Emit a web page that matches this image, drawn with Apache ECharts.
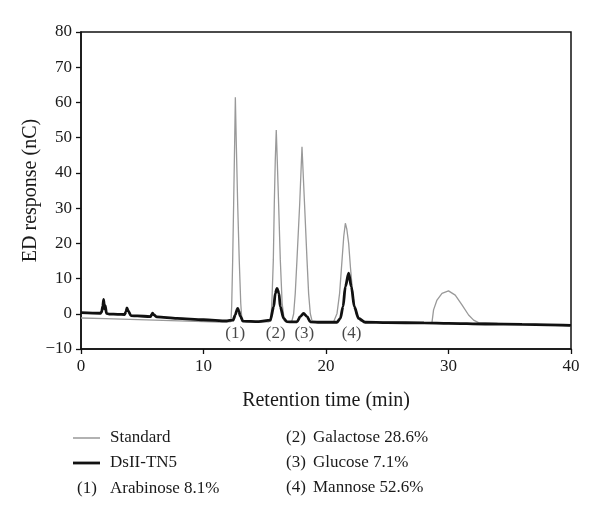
<!DOCTYPE html>
<html>
<head>
<meta charset="utf-8">
<script src="https://cdn.jsdelivr.net/npm/echarts@6/dist/echarts.min.js"></script>
<style>
html,body{margin:0;padding:0;background:#fff;}
#chart{width:600px;height:525px;}
</style>
</head>
<body>
<div id="chart"></div>
<script>
// ---- data ----
var seriesNames = ['Standard', 'DsII-TN5'];

var standardTime = [0, 2, 4, 6, 8, 10, 11.9, 12.24, 12.3, 12.38, 12.46, 12.54, 12.6, 12.68, 12.79, 12.92, 13.04, 13.14, 13.5, 14.5, 15.3, 15.51, 15.6, 15.7, 15.78, 15.86, 15.94, 16.02, 16.13, 16.27, 16.42, 16.6, 17.0, 17.22, 17.36, 17.49, 17.63, 17.85, 18.04, 18.25, 18.45, 18.58, 18.72, 18.86, 19.5, 20.3, 20.62, 20.9, 21.11, 21.31, 21.45, 21.58, 21.7, 21.85, 22.0, 22.2, 22.45, 22.8, 23.5, 25, 27, 28.65, 28.78, 29.06, 29.47, 30.0, 30.55, 31.1, 31.64, 32.05, 32.45, 34, 37, 40];
var standardValue = [-1.2, -1.4, -1.6, -1.8, -2.0, -2.2, -2.4, -2.2, 2, 15, 31, 48, 61.5, 48, 31, 15, 3, -2.0, -2.3, -2.3, -2.3, -2.0, 5, 15.3, 31.4, 43.7, 52.2, 43.7, 31.4, 15.3, 3, -2.0, -2.4, -2.0, 0, 5.8, 15.3, 31, 47.4, 31, 15.3, 5.8, 0, -2.0, -2.4, -2.4, -2.3, 0.1, 5.8, 15.3, 22, 25.7, 24, 20, 13, 5, 0, -2.0, -2.4, -2.4, -2.5, -2.5, 1.1, 3.9, 5.8, 6.5, 5.3, 2.5, -0.35, -1.8, -2.5, -2.7, -3.0, -3.5];

var sampleTime = [0, 1.58, 1.68, 1.78, 1.85, 1.92, 1.98, 2.08, 2.3, 3.0, 3.56, 3.68, 3.75, 3.85, 4.08, 4.6, 5.66, 5.78, 5.85, 5.95, 6.2, 7.84, 10, 11.92, 12.41, 12.6, 12.72, 12.79, 12.88, 13.0, 13.22, 14.5, 15.45, 15.73, 15.86, 16.0, 16.16, 16.27, 16.54, 16.81, 17.3, 17.63, 17.9, 18.17, 18.45, 18.72, 19.5, 20.9, 21.17, 21.39, 21.58, 21.85, 22.07, 22.31, 22.66, 23.21, 25, 28, 30, 33, 36, 40];
var sampleValue = [0.3, 0.15, 0.5, 2.2, 4.1, 1.4, 2.3, 0.1, -0.1, -0.15, -0.2, 0.6, 1.7, 0.8, -0.55, -0.6, -0.8, -0.2, 0.15, -0.3, -0.9, -1.3, -1.7, -2.0, -1.8, -0.3, 1.0, 1.55, 0.8, -0.6, -2.1, -2.2, -1.8, 2.0, 5.8, 7.2, 5.8, 2.0, -1.3, -2.25, -2.3, -2.3, -0.8, 0.1, -0.8, -2.3, -2.4, -2.4, -1.3, 2.0, 7.7, 11.5, 7.7, 2.0, -1.3, -2.4, -2.5, -2.6, -2.7, -2.9, -3.0, -3.3];

var peakLabels = ['(1)', '(2)', '(3)', '(4)'];
var peakTime = [12.59, 15.9, 18.23, 22.09];
var peakLabelValue = [-5.6, -5.6, -5.6, -5.6];

var componentNames = ['Arabinose 8.1%', 'Galactose 28.6%', 'Glucose 7.1%', 'Mannose 52.6%'];

var xTicks = [0, 10, 20, 30, 40];
var yTicks = [-10, 0, 10, 20, 30, 40, 50, 60, 70, 80];

// ---- build ----
function zip(a, b) { return a.map(function (v, i) { return [v, b[i]]; }); }

var FONT = '"Liberation Serif", "Times New Roman", serif';
var TXT = '#1a1a1a';

var chart = echarts.init(document.getElementById('chart'), null, { renderer: 'canvas' });

var legendGraphics = [];
var legendRowsY = [438, 463, 489];
var legendColors = ['#999999', '#111111'];
var legendWidths = [1.5, 2.8];
seriesNames.forEach(function (n, i) {
  legendGraphics.push({
    type: 'line', shape: { x1: 73, y1: legendRowsY[i], x2: 100, y2: legendRowsY[i] },
    style: { stroke: legendColors[i], lineWidth: legendWidths[i] }
  });
  legendGraphics.push({
    type: 'text', x: 110, y: legendRowsY[i],
    style: { text: n, font: '17px ' + FONT, fill: TXT, verticalAlign: 'middle', align: 'left' }
  });
});
var compPos = [[77, 110, 489], [286, 313, 438], [286, 313, 463], [286, 313, 488]];
componentNames.forEach(function (n, i) {
  legendGraphics.push({
    type: 'text', x: compPos[i][0], y: compPos[i][2],
    style: { text: peakLabels[i], font: '17px ' + FONT, fill: TXT, verticalAlign: 'middle', align: 'left' }
  });
  legendGraphics.push({
    type: 'text', x: compPos[i][1], y: compPos[i][2],
    style: { text: n, font: '17px ' + FONT, fill: TXT, verticalAlign: 'middle', align: 'left' }
  });
});

var option = {
  animation: false,
  backgroundColor: '#ffffff',
  grid: { left: 81, right: 29, top: 32, bottom: 176, show: true, borderColor: '#111', borderWidth: 1.5, backgroundColor: 'transparent' },
  xAxis: {
    type: 'value', min: xTicks[0], max: xTicks[xTicks.length - 1], interval: 10,
    name: 'Retention time (min)', nameLocation: 'middle', nameGap: 42, nameMoveOverlap: false,
    nameTextStyle: { fontFamily: FONT, fontSize: 20, color: TXT },
    axisLine: { show: true, onZero: false, lineStyle: { color: '#111', width: 1.5 } },
    axisTick: { show: true, inside: false, length: 5, lineStyle: { color: '#111', width: 1.3 } },
    axisLabel: { fontFamily: FONT, fontSize: 17, color: TXT, margin: 9 },
    splitLine: { show: false }
  },
  yAxis: {
    type: 'value', min: yTicks[0], max: yTicks[yTicks.length - 1], interval: 10,
    name: 'ED response (nC)', nameLocation: 'middle', nameGap: 40, nameRotate: 90, nameMoveOverlap: false,
    nameTextStyle: { fontFamily: FONT, fontSize: 20, color: TXT },
    axisLine: { show: true, onZero: false, lineStyle: { color: '#111', width: 1.5 } },
    axisTick: { show: true, inside: false, length: 5, lineStyle: { color: '#111', width: 1.3 } },
    axisLabel: {
      fontFamily: FONT, fontSize: 17, color: TXT, margin: 9,
      formatter: function (v) { return v < 0 ? '\u2212' + Math.abs(v) : String(v); }
    },
    splitLine: { show: false }
  },
  series: [
    {
      name: seriesNames[0], type: 'line', data: zip(standardTime, standardValue),
      symbol: 'none', showSymbol: false, smooth: false,
      lineStyle: { color: '#999999', width: 1.3 }, z: 2
    },
    {
      name: seriesNames[1], type: 'line', data: zip(sampleTime, sampleValue),
      symbol: 'none', showSymbol: false, smooth: 0.3, smoothMonotone: 'x',
      lineStyle: { color: '#111111', width: 2.8 }, z: 3
    },
    {
      name: 'labels', type: 'scatter', symbolSize: 0,
      data: peakTime.map(function (t, i) { return { value: [t, peakLabelValue[i]], label: { formatter: peakLabels[i] } }; }),
      label: { show: true, position: 'inside', fontFamily: FONT, fontSize: 17, color: TXT },
      silent: true, z: 4
    }
  ],
  graphic: legendGraphics
};
chart.setOption(option);
</script>
</body>
</html>
